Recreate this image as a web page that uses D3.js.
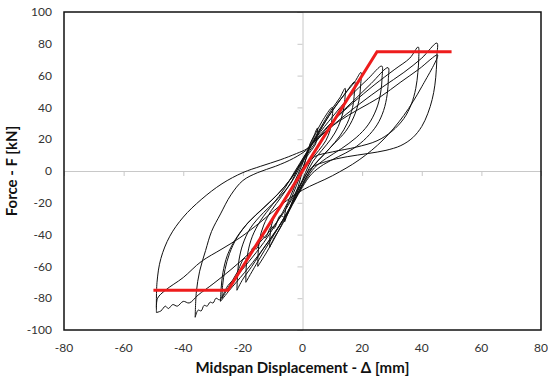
<!DOCTYPE html>
<html>
<head>
<meta charset="utf-8">
<script src="https://cdn.jsdelivr.net/npm/d3@7"></script>
<style>
  body { margin: 0; background: #fff; }
  svg { display: block; }
  text { font-family: Lato, "Open Sans", sans-serif; }
</style>
</head>
<body>
<svg id="chart" width="548" height="380"></svg>
<script>
// axis ticks
const xTicks = [-80, -60, -40, -20, 0, 20, 40, 60, 80];
const yTicks = [-100, -80, -60, -40, -20, 0, 20, 40, 60, 80, 100];

// bilinear envelope (red)
const envelope = [[-50, -75], [-25, -75], [25, 75], [50, 75]];

// hysteresis loops, [displacement mm, force kN]
const loop05 = [[-6,-32],[-5.9,-27],[-5.3,-22],[-4,-18],[-2,-9],[0,1],[1.5,10],[2.5,17],[3.8,22],[5,27],
  [4.9,22],[4.4,17],[3,13],[1.5,9],[0,0],[-1.5,-10],[-3,-17],[-4,-22],[-5,-27],[-6,-32]];
const loop10 = [[-11,-48],[-10.9,-41],[-10.4,-34],[-9,-27],[-6.5,-20],[-4,-12],[-1.5,-2],[0.5,7],[2,14],[4,22],[6.5,31],[10,40],
  [9.9,33],[9.3,26],[7.8,19],[5.5,13],[3,7],[1,-1],[-1,-10],[-3,-18],[-5,-27],[-7.5,-36],[-9.5,-42],[-11,-48]];
const loop14 = [[-15,-60],[-14.9,-52],[-14.4,-43],[-13,-34],[-10.5,-25],[-7,-16],[-3.5,-6],[-1,4],[1.2,11],[3,17],[6,27],[9.5,38],[12.5,46],[14.3,52],
  [14.2,45],[13.6,37],[12,28],[9.5,20],[6.5,13],[3.5,6],[1,-3],[-1.5,-12],[-3.5,-20],[-6,-30],[-9,-41],[-12,-51],[-15,-60]];
const loop17 = [[-19,-70],[-18.9,-61],[-18.3,-51],[-16.8,-41],[-14,-31],[-10,-21],[-6,-11],[-2.5,0],[0.5,9],[2.5,15],[6,26],[10,38],[14,48],[17.5,56],
  [17.4,49],[16.8,40],[15,30],[12.5,22],[9,14],[5.5,7],[2.5,0],[0,-8],[-2.5,-17],[-6,-29],[-10.5,-43],[-15,-57],[-19,-70]];
const loop20 = [[-22,-75],[-21.8,-66],[-21.3,-56],[-20,-46],[-17.5,-36],[-13,-26],[-8,-17],[-4,-8],[-1,2],[1.5,11],[4.5,21],[9,35],[14,48],[17.5,56],[19.6,62],
  [19.5,54],[18.9,44],[17.2,34],[14.5,25],[10.5,17],[7,10],[3.5,3],[1,-5],[-1.5,-14],[-4.5,-24],[-8,-35],[-12.5,-47],[-17,-60],[-20,-68],[-22,-75]];
const loop27 = [[-27.5,-82],[-27.3,-74],[-26.7,-64],[-25.2,-53],[-22.5,-43],[-18.5,-33],[-13.5,-24],[-8.5,-15],[-4,-5],[-0.5,5],[2,13],[5,22],[10,34],[16,47],[22,58],[26.6,66],
  [26.7,59],[26.2,49],[24.8,39],[22,29],[18,21],[13,14],[8,8],[4,2],[1,-6],[-2,-16],[-5,-26],[-9,-38],[-14,-51],[-19.5,-64],[-24.5,-75],[-27.5,-82]];
const loop29 = [[-27,-80],[-26.8,-72],[-26,-62],[-24.5,-52],[-22,-42],[-18,-32],[-13,-23],[-8,-14],[-3.5,-4],[0,6],[2.5,13],[6,22],[11,33],[17,44],[23,55],[28.7,65],
  [28.8,58],[28.4,48],[27.2,38],[25,29],[21.5,21],[17,14],[12,9],[7,4],[3,-2],[0,-10],[-3,-20],[-6,-29],[-7.5,-28],[-9.5,-36],[-10.5,-35],[-12.5,-42],[-13.5,-41],[-15.5,-49],[-16.5,-48],[-18.5,-56],[-19.5,-55],[-22,-64],[-24.5,-72],[-27,-80]];
const loop39 = [[-36,-92],[-35.6,-76],[-34.5,-63],[-32.5,-50],[-30.5,-38],[-27.5,-27],[-24,-15],[-20,-6],[-15,-1],[-9,3],[-3,8],[1.5,13.5],[5,21],[10,31],[17,43],[24,54],[31,64],[36,71],[38.8,78],
  [39,71],[38.7,62],[38,52],[36.5,42],[34,33],[30,25],[25,19],[18,15],[10,12],[4,9],[0,2],
  [-2.5,-9],[-5,-20],[-8.5,-32],[-13,-45],[-18,-57],[-22,-66],[-25,-72],[-27.8,-81],[-29,-80],[-30,-83],[-31,-82.5],[-32,-85],[-33,-84.5],[-34,-88],[-35,-87.5],[-36,-92]];
const loop45a = [[-49,-89],[-48.8,-70],[-47.5,-55],[-44.5,-41],[-40,-29],[-34,-18],[-27,-8],[-20,-1],[-14,3],[-7.5,7],[-2,11],[1.5,14],[5,20],[11,30],[19,42],[27,53],[34,62],[40,71],[45.1,80.5],
  [45.1,73],[44.9,64],[44.4,54],[43.5,45],[42,36],[40,28],[37,21],[33,16],[28,13],[22,11],[15,9],[8,6],[3,2],
  [0,-6],[-3,-16],[-7,-28],[-12,-40],[-18,-52],[-24,-62],[-30,-71],[-35,-78],[-38,-83],[-40,-82],[-42,-85],[-43.5,-84],[-45,-86.5],[-46,-85],[-47.5,-88],[-49,-89]];
const loop45b = [[1.5,14],[6,22],[12,31],[19,39],[26,46.5],[33,56],[39,64],[45.3,73],
  [40,53],[34,35],[27,19.5],[19,7],[10,-3],[0,-12],[-7,-21],[-14,-32],[-21,-42],[-27,-49],[-34,-57],[-40,-67],[-46,-75],[-48.6,-80],[-49,-86]];
const loops = [loop05, loop10, loop14, loop17, loop20, loop27, loop29, loop39, loop45a, loop45b];

const svg = d3.select("#chart");
const plotLeft = 64, plotRight = 541, plotTop = 12, plotBottom = 330;

const x = d3.scaleLinear().domain([-80, 80]).range([plotLeft, plotRight]);
const y = d3.scaleLinear().domain([-100, 100]).range([plotBottom, plotTop]);

// zero lines with small outside ticks
const zx = svg.append("g")
  .attr("transform", "translate(0," + y(0) + ")")
  .call(d3.axisBottom(x).tickValues(xTicks).tickSize(5).tickFormat(""));
const zy = svg.append("g")
  .attr("transform", "translate(" + x(0) + ",0)")
  .call(d3.axisLeft(y).tickValues(yTicks).tickSize(5).tickFormat(""));
[zx, zy].forEach(g => {
  g.selectAll("path, line").attr("stroke", "#c8c8c8").attr("stroke-width", 1);
});

// tick labels
svg.append("g").selectAll("text")
  .data(yTicks)
  .enter()
  .append("text")
  .attr("x", plotLeft - 12)
  .attr("y", d => y(d))
  .attr("dy", "0.35em")
  .attr("text-anchor", "end")
  .attr("font-size", 12)
  .attr("fill", "#333")
  .text(d => d);

svg.append("g").selectAll("text")
  .data(xTicks)
  .enter()
  .append("text")
  .attr("x", d => x(d))
  .attr("y", plotBottom + 22)
  .attr("text-anchor", "middle")
  .attr("font-size", 12)
  .attr("fill", "#333")
  .text(d => d);

// loops
const line = d3.line()
  .x(d => x(d[0]))
  .y(d => y(d[1]))
  .curve(d3.curveCatmullRom.alpha(0.5));

svg.append("g").selectAll("path")
  .data(loops)
  .enter()
  .append("path")
  .attr("d", line)
  .attr("fill", "none")
  .attr("stroke", "#111")
  .attr("stroke-width", 1);

// envelope
svg.append("path")
  .datum(envelope)
  .attr("d", d3.line().x(d => x(d[0])).y(d => y(d[1])))
  .attr("fill", "none")
  .attr("stroke", "#ee1c1c")
  .attr("stroke-width", 3);

// plot border
svg.append("rect")
  .attr("x", plotLeft)
  .attr("y", plotTop)
  .attr("width", plotRight - plotLeft)
  .attr("height", plotBottom - plotTop)
  .attr("fill", "none")
  .attr("stroke", "#111")
  .attr("stroke-width", 1.5);

// axis titles
svg.append("text")
  .attr("x", (plotLeft + plotRight) / 2)
  .attr("y", 373)
  .attr("text-anchor", "middle")
  .attr("font-size", 15)
  .attr("font-weight", "bold")
  .attr("fill", "#111")
  .text("Midspan Displacement - \u0394 [mm]");

svg.append("text")
  .attr("transform", "translate(17," + y(0) + ") rotate(-90)")
  .attr("text-anchor", "middle")
  .attr("font-size", 15)
  .attr("font-weight", "bold")
  .attr("fill", "#111")
  .text("Force - F [kN]");
</script>
</body>
</html>
